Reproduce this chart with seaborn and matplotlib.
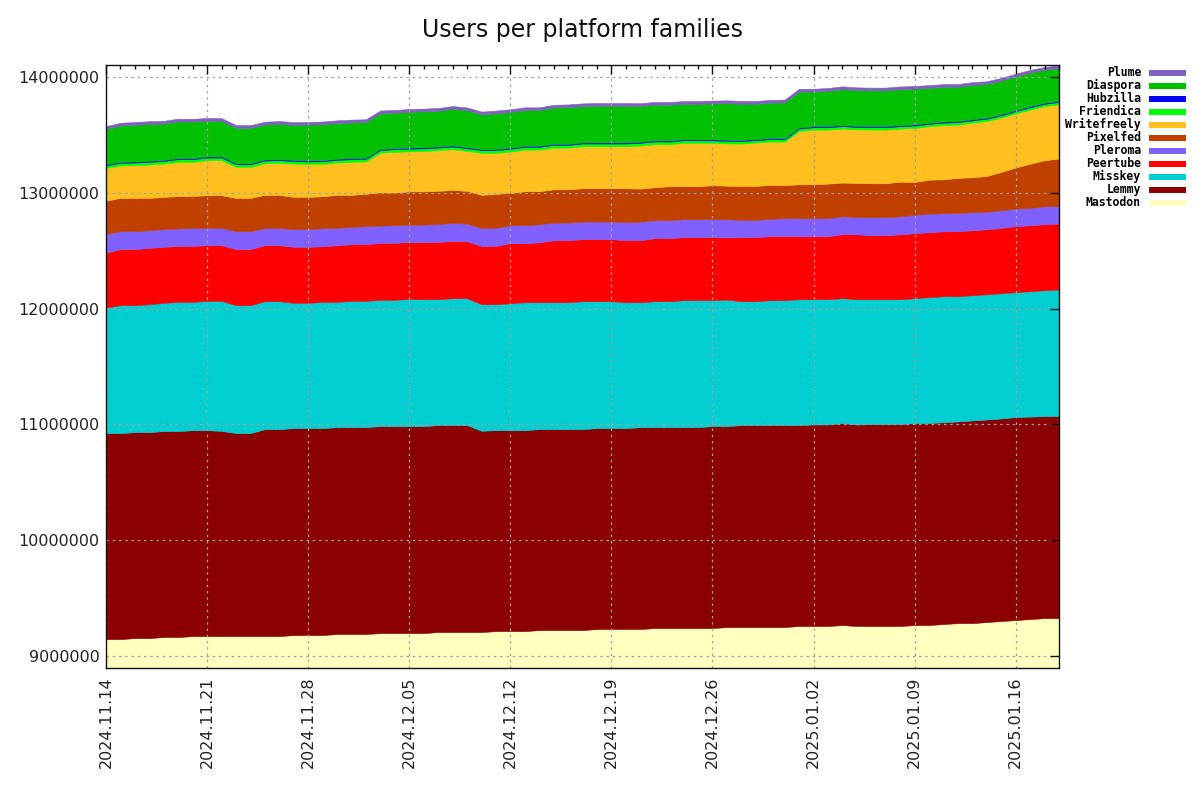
import pandas as pd
import seaborn as sns
import matplotlib.pyplot as plt
import matplotlib.dates as mdates
from matplotlib.patches import Rectangle
from matplotlib.ticker import FuncFormatter, MultipleLocator, NullLocator

# daily user counts (thousands), 2024.11.14 .. 2025.01.19
dates = pd.date_range("2024-11-14", "2025-01-19", freq="D")

mastodon = [9149, 9149, 9158, 9158, 9167, 9167, 9175, 9175, 9175, 9175,
            9175, 9175, 9175, 9184, 9184, 9184, 9193, 9193, 9193, 9201,
            9201, 9201, 9201, 9210, 9210, 9210, 9210, 9218, 9218, 9218,
            9227, 9227, 9227, 9227, 9236, 9236, 9236, 9236, 9244, 9244,
            9244, 9244, 9244, 9253, 9253, 9253, 9253, 9253, 9262, 9262,
            9262, 9270, 9262, 9262, 9262, 9262, 9270, 9270, 9279, 9287,
            9287, 9296, 9305, 9313, 9322, 9330, 9330]
lemmy = [1777, 1777, 1776, 1776, 1776, 1776, 1776, 1776, 1770, 1751,
         1751, 1785, 1785, 1785, 1785, 1785, 1784, 1784, 1784, 1785,
         1785, 1785, 1785, 1785, 1785, 1785, 1736, 1733, 1733, 1733,
         1733, 1733, 1733, 1733, 1733, 1733, 1733, 1741, 1733, 1733,
         1733, 1733, 1742, 1733, 1742, 1742, 1742, 1742, 1733, 1738,
         1738, 1742, 1738, 1741, 1741, 1741, 1742, 1742, 1741, 1739,
         1748, 1747, 1747, 1751, 1746, 1742, 1742]
misskey = [1082, 1103, 1095, 1103, 1106, 1114, 1106, 1115, 1121, 1103,
           1103, 1103, 1103, 1080, 1080, 1088, 1080, 1089, 1089, 1089,
           1089, 1097, 1094, 1085, 1094, 1094, 1091, 1086, 1095, 1103,
           1094, 1094, 1094, 1103, 1094, 1094, 1085, 1077, 1086, 1086,
           1095, 1095, 1086, 1091, 1068, 1068, 1077, 1077, 1085, 1080,
           1080, 1077, 1080, 1077, 1077, 1077, 1077, 1086, 1086, 1080,
           1080, 1080, 1080, 1077, 1081, 1086, 1092]
peertube = [474, 483, 483, 486, 483, 483, 483, 480, 480, 483,
            483, 483, 483, 483, 483, 480, 489, 489, 489, 491,
            491, 491, 491, 494, 494, 491, 503, 503, 517, 509,
            517, 535, 535, 535, 535, 535, 535, 535, 543, 543,
            543, 543, 543, 537, 552, 552, 552, 552, 543, 543,
            543, 552, 560, 552, 552, 560, 560, 560, 560, 560,
            560, 560, 563, 569, 569, 569, 569]
pleroma = [161, 155, 155, 152, 152, 150, 155, 149, 149, 155,
           155, 147, 149, 152, 152, 155, 149, 149, 155, 149,
           152, 149, 152, 155, 155, 152, 155, 155, 155, 155,
           155, 152, 152, 152, 152, 152, 155, 160, 155, 155,
           155, 155, 155, 155, 149, 149, 149, 155, 155, 155,
           155, 155, 149, 155, 155, 155, 160, 160, 155, 158,
           155, 152, 152, 152, 149, 155, 149]
pixelfed = [287, 287, 287, 279, 279, 279, 276, 282, 282, 287,
            287, 287, 285, 279, 279, 276, 285, 276, 279, 287,
            282, 287, 287, 285, 285, 282, 285, 293, 279, 293,
            285, 287, 287, 287, 287, 287, 293, 285, 285, 293,
            285, 285, 293, 290, 293, 293, 293, 285, 293, 293,
            299, 290, 293, 293, 293, 299, 282, 293, 293, 302,
            302, 308, 331, 354, 382, 397, 411]
writefreely = [282, 279, 282, 287, 287, 296, 293, 302, 302, 267,
               267, 273, 276, 287, 282, 279, 279, 285, 279, 342,
               351, 345, 348, 351, 351, 345, 362, 354, 356, 359,
               359, 359, 359, 362, 362, 362, 362, 371, 371, 362,
               374, 374, 365, 365, 365, 374, 374, 374, 460, 471,
               466, 466, 463, 463, 463, 457, 466, 460, 468, 460,
               471, 474, 468, 466, 466, 466, 468]
friendica = [23, 23, 23, 23, 23, 23, 23, 23, 23, 23,
             23, 23, 23, 23, 23, 23, 23, 23, 23, 23,
             23, 23, 23, 23, 23, 23, 24, 24, 24, 24,
             24, 24, 24, 24, 24, 24, 24, 24, 24, 24,
             22, 22, 22, 22, 22, 21, 21, 21, 21, 21,
             21, 21, 21, 21, 21, 21, 21, 21, 21, 21,
             20, 20, 20, 20, 20, 20, 20]
hubzilla = [9] * 67
diaspora = [305, 313, 316, 319, 313, 316, 316, 308, 308, 305,
            305, 302, 305, 302, 308, 310, 308, 308, 308, 308,
            305, 310, 310, 308, 316, 319, 299, 308, 308, 308,
            308, 313, 316, 313, 316, 316, 316, 308, 308, 308,
            305, 305, 310, 316, 313, 305, 305, 310, 310, 299,
            305, 310, 308, 308, 308, 310, 308, 302, 299, 296,
            296, 290, 290, 290, 290, 285, 282]
plume = [24] * 67

platforms = ["Mastodon", "Lemmy", "Misskey", "Peertube", "Pleroma", "Pixelfed",
             "Writefreely", "Friendica", "Hubzilla", "Diaspora", "Plume"]
series = [mastodon, lemmy, misskey, peertube, pleroma, pixelfed,
          writefreely, friendica, hubzilla, diaspora, plume]
colors = ["#ffffc0", "#8b0000", "#00ced1", "#ff0000", "#8060ff", "#c04000",
          "#ffc020", "#00ff00", "#0000ff", "#00c000", "#8060c0"]

df = pd.DataFrame({p: s for p, s in zip(platforms, series)}, index=dates) * 1000
palette = sns.color_palette(colors)

sns.set_style("white")
plt.rcParams["font.family"] = ["DejaVu Sans"]

W, H = 1200, 800
fig = plt.figure(figsize=(12, 8), dpi=100)
ax = fig.add_axes([106 / W, 1 - 668 / H, (1059 - 106) / W, (668 - 65) / H])

ax.stackplot(df.index, [df[p].values for p in platforms], colors=palette,
             edgecolor="face", linewidth=0.4)

ax.set_xlim(dates[0], dates[-1])
ax.set_ylim(8.9e6, 14.1e6)

ax.set_xticks(dates[::7])
ax.xaxis.set_minor_locator(mdates.DayLocator())
ax.xaxis.set_major_formatter(mdates.DateFormatter("%Y.%m.%d"))
ax.yaxis.set_major_locator(MultipleLocator(1e6))
ax.yaxis.set_minor_locator(NullLocator())
ax.yaxis.set_major_formatter(FuncFormatter(lambda v, p: "{:d}".format(int(round(v)))))

ax.tick_params(axis="both", which="both", direction="in", top=True, right=True,
               colors="#111111", labelcolor="#222222")
ax.tick_params(axis="both", which="major", length=6.5, width=1, labelsize=11.5)
ax.tick_params(axis="both", which="minor", length=3.2, width=1)
ax.tick_params(axis="x", which="major", pad=6, labelrotation=90)
ax.tick_params(axis="y", which="major", pad=4.5)

ax.set_axisbelow(False)
ax.grid(True, which="major", color="#a0a0a0", linestyle=(0, (2, 3)), linewidth=0.9)
for s in ax.spines.values():
    s.set_color("#111111")
    s.set_linewidth(1)
    s.set_zorder(5)

fig.text(582.5 / W, 1 - 30 / H, "Users per platform families", ha="center",
         va="center", fontsize=17, color="#111111")

# legend, gnuplot style: right aligned names with a colour bar to the right
for i, (name, col) in enumerate(zip(platforms[::-1], list(palette)[::-1])):
    yc = 72.7 + 13.03 * i
    fig.text(1141 / W, 1 - yc / H, name, ha="right", va="center",
             family="DejaVu Sans Mono", fontweight="bold", fontsize=8.3, color="black")
    fig.patches.append(Rectangle((1149 / W, 1 - (yc + 3.2) / H), 37 / W, 6.4 / H,
                                 transform=fig.transFigure, facecolor=col,
                                 edgecolor="none", figure=fig))

fig.savefig("out.png", dpi=100)
